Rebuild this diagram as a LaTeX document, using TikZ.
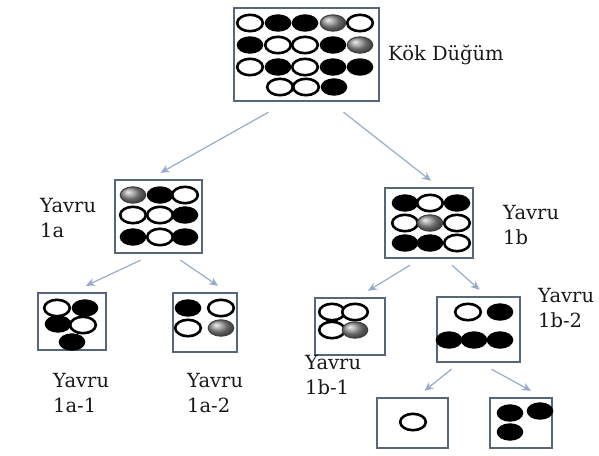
\documentclass[tikz,border=0pt]{standalone}
\usepackage{fontspec}
\setmainfont{DejaVu Serif}
\usetikzlibrary{arrows.meta, calc}

\definecolor{boxline}{RGB}{88,102,122}
\definecolor{arrowc}{RGB}{150,172,202}

\begin{document}
\begin{tikzpicture}[
      x=1pt, y=-1pt,
      box/.style={rectangle, draw=boxline, line width=2.4pt, fill=white, inner sep=0pt},
      lbl/.style={anchor=north west, align=left, inner sep=0pt, text=black!90, font=\fontsize{19.5}{25}\selectfont},
      arrow/.style={-{Stealth[length=9pt, width=8pt]}, draw=arrowc, line width=1.2pt},
      wst/.style={draw=black, line width=2.6pt, fill=white},
      bst/.style={draw=black, line width=1pt, fill=black},
      gst/.style={draw=black!75, line width=1pt, shading=ball, ball color=gray!85}
      ]
      \useasboundingbox (0,0) rectangle (599,455);

      % Boxes
      \node[box, minimum width=145pt, minimum height=93pt] (root) at (306.5,54.5) {};
      \node[box, minimum width=87pt, minimum height=73pt] (k1a) at (158.5,216.5) {};
      \node[box, minimum width=88pt, minimum height=70pt] (k1b) at (429,223) {};
      \node[box, minimum width=68pt, minimum height=57pt] (k1a1) at (72,321.5) {};
      \node[box, minimum width=64pt, minimum height=59pt] (k1a2) at (205,322.5) {};
      \node[box, minimum width=70pt, minimum height=57pt] (k1b1) at (350,326.5) {};
      \node[box, minimum width=83pt, minimum height=65pt] (k1b2) at (478.5,329.5) {};
      \node[box, minimum width=71pt, minimum height=50pt] (leafa) at (412.5,423) {};
      \node[box, minimum width=62pt, minimum height=50pt] (leafb) at (521,423) {};

      % Stones
      \foreach \x/\y/\c in {250/23/wst, 278/23/bst, 305/23/bst, 333/23/gst, 360/23/wst,
                            250/45/bst, 278/45/wst, 305/45/wst, 333/45/bst, 360/45/gst,
                            250/67/wst, 278/67/bst, 305/67/wst, 333/67/bst, 360/67/bst,
                            280/87/wst, 306/87/wst, 334/87/bst,
                            133/195/gst, 160/195/bst, 185/195/wst,
                            133/215/wst, 160/215/wst, 185/215/bst,
                            133/237/bst, 160/237/wst, 185/237/bst,
                            405/203/bst, 430/203/wst, 457/203/bst,
                            405/223/wst, 430/223/gst, 457/223/wst,
                            405/243/bst, 430/243/bst, 457/243/wst,
                            85/308/bst, 58/324/bst, 72/342/bst, 57/308/wst, 83/325/wst,
                            188/308/bst, 221/308/wst, 188/328/wst, 221/328/gst,
                            332/312/wst, 355/312/wst, 332/330/wst, 355/330/gst,
                            468/312/wst, 500/312/bst, 449/340/bst, 474/340/bst, 500/340/bst,
                            413/422/wst,
                            510/413/bst, 540/411/bst, 510/432/bst}
        \draw[\c] (\x,\y) ellipse [x radius=12.8, y radius=8.2];

      % Labels
      \node[lbl, anchor=west] (troot) at (388,55) {Kök Düğüm};
      \node[lbl] (t1a) at (40,198) {Yavru\\1a};
      \node[lbl] (t1b) at (503,205) {Yavru\\1b};
      \node[lbl] (t1a1) at (53,373) {Yavru\\1a-1};
      \node[lbl] (t1a2) at (187,373) {Yavru\\1a-2};
      \node[lbl] (t1b1) at (305,355) {Yavru\\1b-1};
      \node[lbl] (t1b2) at (538,288) {Yavru\\1b-2};

      % Arrows
      \draw[arrow] ([xshift=-38pt,yshift=-10pt]root.south) -- ([xshift=2pt,yshift=6pt]k1a.north);
      \draw[arrow] ([xshift=37pt,yshift=-10pt]root.south) -- ([xshift=2pt,yshift=6pt]k1b.north);
      \draw[arrow] ([xshift=-18pt,yshift=-6pt]k1a.south) -- ([xshift=14pt,yshift=6pt]k1a1.north);
      \draw[arrow] ([xshift=22pt,yshift=-6pt]k1a.south) -- ([xshift=13pt,yshift=6pt]k1a2.north);
      \draw[arrow] ([xshift=-19pt,yshift=-6pt]k1b.south) -- ([xshift=18pt,yshift=6pt]k1b1.north);
      \draw[arrow] ([xshift=23pt,yshift=-6pt]k1b.south) -- ([xshift=1pt,yshift=6pt]k1b2.north);
      \draw[arrow] ([xshift=-27pt,yshift=-6pt]k1b2.south) -- ([xshift=12pt,yshift=6pt]leafa.north);
      \draw[arrow] ([xshift=13pt,yshift=-6pt]k1b2.south) -- ([xshift=10pt,yshift=6pt]leafb.north);

   \end{tikzpicture}
\end{document}
